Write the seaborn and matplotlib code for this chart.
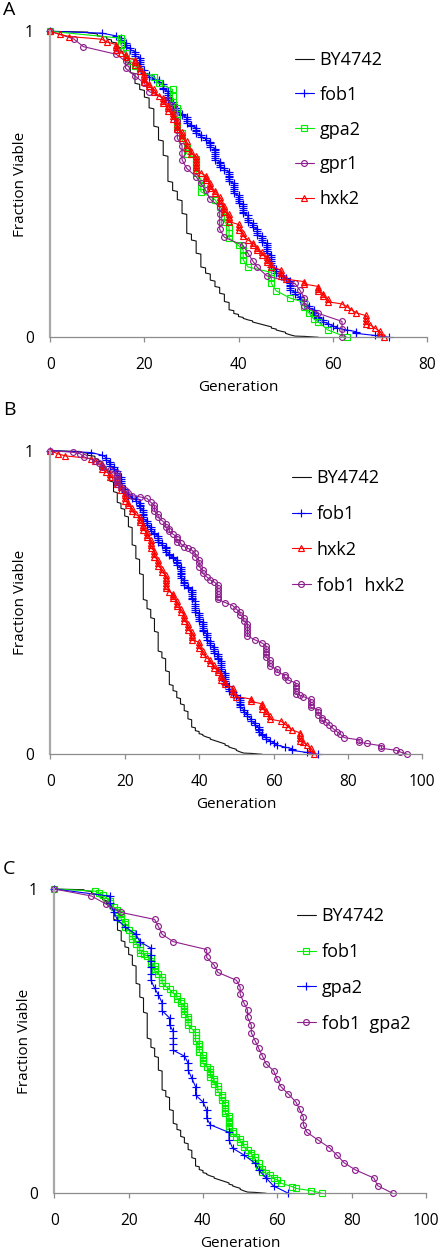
import matplotlib
matplotlib.use("Agg")
import matplotlib.pyplot as plt
import pandas as pd
import seaborn as sns

W, H = 441, 1249

# ---------------- data ----------------
# For each strain: generations at which cells died, fraction still viable
# right after that generation, and number of cells followed.
by4742_gen = [8, 10, 12, 13, 14, 15, 16, 17, 18, 19, 20, 21, 22, 23, 24, 25, 26, 27, 28, 29,
              30, 31, 32, 33, 34, 35, 36, 37, 38, 39, 40, 41, 42, 43, 44, 45, 46, 47, 48, 49,
              50, 51, 52, 54, 57]
by4742_surv = [0.995, 0.985, 0.975, 0.965, 0.95, 0.935, 0.90, 0.865, 0.83, 0.81, 0.785, 0.75,
               0.69, 0.645, 0.595, 0.51, 0.48, 0.45, 0.405, 0.34, 0.318, 0.275, 0.23, 0.21,
               0.187, 0.166, 0.144, 0.117, 0.09, 0.078, 0.068, 0.062, 0.057, 0.05, 0.046,
               0.042, 0.038, 0.03, 0.024, 0.02, 0.013, 0.008, 0.004, 0.003, 0.0]
by4742_cells = 300

fob1_gen = [11, 14, 15, 16, 17, 18, 19, 20, 21, 22, 23, 24, 25, 26, 27, 28, 29, 30, 31, 32,
            33, 34, 35, 36, 37, 38, 39, 40, 41, 42, 43, 44, 45, 46, 47, 48, 49, 50, 51, 52,
            53, 54, 55, 56, 57, 58, 59, 60, 61, 63, 65, 69, 72]
fob1_surv = [0.994, 0.985, 0.97, 0.95, 0.94, 0.92, 0.88, 0.865, 0.85, 0.845, 0.835, 0.81,
             0.775, 0.755, 0.735, 0.725, 0.70, 0.69, 0.667, 0.655, 0.645, 0.623, 0.58, 0.558,
             0.547, 0.51, 0.47, 0.44, 0.405, 0.378, 0.36, 0.335, 0.313, 0.275, 0.23, 0.21,
             0.20, 0.19, 0.155, 0.14, 0.125, 0.11, 0.095, 0.073, 0.062, 0.05, 0.045, 0.038,
             0.03, 0.024, 0.013, 0.006, 0.0]
fob1_cells = 160

gpa2_gen = [15, 16, 17, 18, 19, 22, 23, 26, 27, 28, 29, 31, 32, 35, 36, 37, 38, 40, 41, 42,
            47, 48, 51, 54, 55, 56, 57, 59, 63]
gpa2_surv = [0.955, 0.93, 0.903, 0.885, 0.87, 0.852, 0.83, 0.77, 0.69, 0.645, 0.60, 0.536,
             0.476, 0.45, 0.427, 0.378, 0.324, 0.30, 0.253, 0.23, 0.176, 0.152, 0.128, 0.10,
             0.079, 0.06, 0.05, 0.024, 0.0]
gpa2_cells = 55

gpr1_gen = [5, 7, 14, 16, 18, 20, 21, 25, 26, 27, 28, 29, 31, 32, 33, 34, 36, 37, 41, 42,
            43, 44, 46, 52, 53, 54, 57, 62]
gpr1_surv = [0.975, 0.95, 0.925, 0.879, 0.854, 0.83, 0.803, 0.775, 0.735, 0.65, 0.58, 0.552,
             0.525, 0.503, 0.481, 0.451, 0.353, 0.327, 0.30, 0.275, 0.25, 0.229, 0.201, 0.176,
             0.155, 0.103, 0.078, 0.0]
gpr1_cells = 40

hxk2_gen = [2, 4, 11, 12, 14, 15, 16, 18, 19, 20, 21, 22, 23, 24, 25, 26, 27, 28, 29, 30,
            31, 32, 33, 34, 35, 36, 37, 38, 40, 41, 42, 43, 44, 45, 46, 47, 49, 50, 54, 57,
            58, 59, 62, 63, 64, 65, 67, 68, 69, 70, 71]
hxk2_surv = [0.99, 0.983, 0.974, 0.965, 0.94, 0.93, 0.915, 0.89, 0.87, 0.835, 0.82, 0.80,
             0.79, 0.765, 0.74, 0.715, 0.68, 0.65, 0.62, 0.60, 0.547, 0.536, 0.514, 0.487,
             0.47, 0.44, 0.41, 0.378, 0.35, 0.33, 0.318, 0.30, 0.285, 0.27, 0.246, 0.23, 0.20,
             0.19, 0.174, 0.15, 0.135, 0.116, 0.109, 0.10, 0.09, 0.08, 0.045, 0.04, 0.03,
             0.01, 0.0]
hxk2_cells = 115

fob1hxk2_gen = [6, 8, 9, 12, 13, 14, 16, 18, 19, 20, 21, 22, 24, 26, 27, 28, 29, 30, 31, 32,
                33, 34, 35, 36, 37, 38, 39, 40, 41, 42, 43, 44, 45, 47, 49, 50, 51, 52, 53, 55,
                57, 58, 59, 61, 63, 64, 66, 67, 68, 70, 72, 73, 74, 75, 76, 77, 78, 79, 83, 85,
                89, 93, 94, 96]
fob1hxk2_surv = [0.995, 0.99, 0.98, 0.967, 0.958, 0.947, 0.935, 0.89, 0.88, 0.87, 0.86, 0.852,
                 0.848, 0.843, 0.83, 0.80, 0.78, 0.77, 0.75, 0.735, 0.725, 0.70, 0.695, 0.684,
                 0.678, 0.673, 0.65, 0.618, 0.596, 0.585, 0.574, 0.568, 0.51, 0.50, 0.49, 0.478,
                 0.46, 0.44, 0.39, 0.377, 0.366, 0.32, 0.29, 0.27, 0.254, 0.244, 0.20, 0.195,
                 0.19, 0.155, 0.13, 0.112, 0.107, 0.096, 0.085, 0.075, 0.066, 0.055, 0.04,
                 0.036, 0.02, 0.013, 0.008, 0.0]
fob1hxk2_cells = 105

c_fob1_gen = [11, 12, 13, 14, 15, 16, 17, 18, 19, 20, 21, 22, 23, 24, 25, 26, 27, 28, 29, 30,
              31, 32, 33, 34, 35, 36, 37, 38, 39, 40, 41, 42, 43, 44, 45, 46, 47, 48, 49, 50,
              51, 52, 53, 54, 55, 56, 57, 58, 59, 60, 61, 64, 65, 69, 72]
c_fob1_surv = [0.993, 0.986, 0.98, 0.97, 0.953, 0.94, 0.925, 0.90, 0.876, 0.865, 0.835, 0.82,
               0.79, 0.786, 0.78, 0.756, 0.73, 0.72, 0.69, 0.68, 0.67, 0.657, 0.64, 0.624,
               0.59, 0.553, 0.54, 0.50, 0.465, 0.427, 0.415, 0.383, 0.36, 0.334, 0.306, 0.263,
               0.213, 0.197, 0.186, 0.17, 0.153, 0.142, 0.126, 0.11, 0.088, 0.071, 0.066,
               0.06, 0.049, 0.044, 0.033, 0.022, 0.016, 0.009, 0.0]
c_fob1_cells = 110

c_gpa2_gen = [15, 16, 17, 19, 22, 23, 26, 27, 28, 29, 31, 32, 35, 36, 37, 38, 40, 41, 42, 47,
              48, 51, 54, 55, 57, 59, 63]
c_gpa2_surv = [0.953, 0.925, 0.898, 0.876, 0.851, 0.827, 0.70, 0.674, 0.652, 0.60, 0.553,
               0.47, 0.451, 0.405, 0.378, 0.323, 0.30, 0.246, 0.225, 0.175, 0.148, 0.126,
               0.099, 0.077, 0.05, 0.024, 0.0]
c_gpa2_cells = 45

fob1gpa2_gen = [10, 14, 18, 27, 28, 29, 32, 41, 43, 44, 49, 50, 51, 52, 53, 54, 55, 56, 57, 59,
                60, 61, 63, 65, 66, 67, 68, 71, 74, 76, 78, 81, 86, 87, 91]
fob1gpa2_surv = [0.977, 0.95, 0.923, 0.90, 0.877, 0.851, 0.827, 0.775, 0.75, 0.726, 0.70,
                 0.655, 0.626, 0.578, 0.528, 0.502, 0.476, 0.451, 0.425, 0.403, 0.374, 0.35,
                 0.326, 0.30, 0.276, 0.225, 0.20, 0.175, 0.15, 0.126, 0.10, 0.077, 0.05,
                 0.025, 0.0]
fob1gpa2_cells = 40

x_ticks_A = [0, 20, 40, 60, 80]
x_ticks_BC = [0, 20, 40, 60, 80, 100]
y_ticks = [0, 1]

BLUE, GREEN, PURPLE, RED, BLACK = "#0000ff", "#00ee00", "#8e1f8e", "#ff0000", "#111111"


def survival_frame(gens, surv, cells):
    """One point per dead cell (Excel-style survival plot)."""
    assert len(gens) == len(surv)
    xs, ys = [0], [1.0]
    prev = 1.0
    for g, s in zip(gens, surv):
        m = max(1, int(round((prev - s) * cells)))
        for k in range(1, m + 1):
            xs.append(g)
            ys.append(prev - (prev - s) * k / m)
        prev = s
    return pd.DataFrame({"Generation": xs, "Fraction Viable": ys})


BY = survival_frame(by4742_gen, by4742_surv, by4742_cells)
FOB1 = survival_frame(fob1_gen, fob1_surv, fob1_cells)
GPA2 = survival_frame(gpa2_gen, gpa2_surv, gpa2_cells)
GPR1 = survival_frame(gpr1_gen, gpr1_surv, gpr1_cells)
HXK2 = survival_frame(hxk2_gen, hxk2_surv, hxk2_cells)
FOB1HXK2 = survival_frame(fob1hxk2_gen, fob1hxk2_surv, fob1hxk2_cells)
C_FOB1 = survival_frame(c_fob1_gen, c_fob1_surv, c_fob1_cells)
C_GPA2 = survival_frame(c_gpa2_gen, c_gpa2_surv, c_gpa2_cells)
FOB1GPA2 = survival_frame(fob1gpa2_gen, fob1gpa2_surv, fob1gpa2_cells)

# ---------------- style ----------------
sns.set_theme(style="white")
plt.rcParams["font.family"] = ["Open Sans", "DejaVu Sans"]
plt.rcParams["text.color"] = "black"
plt.rcParams["axes.labelcolor"] = "black"
plt.rcParams["xtick.labelcolor"] = "black"
plt.rcParams["ytick.labelcolor"] = "black"

fig = plt.figure(figsize=(W / 100, H / 100), dpi=100)
fig.patch.set_facecolor("white")

MS = {"+": 6.0, "s": 4.0, "o": 4.2, "^": 4.5}


def panel(letter, letter_top, box, xmax, xticks, series, legend_pos, lspace):
    left, top, right, bottom = box
    ax = fig.add_axes([left / W, 1 - bottom / H, (right - left) / W, (bottom - top) / H])
    for label, df, color, marker in series:
        kw = dict(color=color, linewidth=0.8, label=label, estimator=None, sort=False,
                  ax=ax, clip_on=False)
        if marker:
            kw.update(marker=marker, markersize=MS[marker], markerfacecolor="none",
                      markeredgecolor=color, markeredgewidth=0.85)
        sns.lineplot(data=df, x="Generation", y="Fraction Viable", **kw)
    ax.set_xlim(0, xmax)
    ax.set_ylim(0, 1)
    ax.set_xticks(xticks)
    ax.set_yticks(y_ticks)
    ax.set_yticklabels([str(v) for v in y_ticks])
    for s in ["top", "right"]:
        ax.spines[s].set_visible(False)
    ax.spines["left"].set_color("#a8a8a8")
    ax.spines["left"].set_linewidth(1.6)
    ax.spines["bottom"].set_color("#8c8c8c")
    ax.spines["bottom"].set_linewidth(0.9)
    ax.tick_params(axis="x", direction="out", length=3.5, width=0.9, color="#8c8c8c",
                   pad=10.5, labelsize=11.2, bottom=True)
    ax.tick_params(axis="y", length=0, pad=12, labelsize=11.2, left=False)
    ax.set_xlabel("Generation", fontsize=11, labelpad=5)
    ax.set_ylabel("Fraction Viable", fontsize=11, labelpad=-2.5)
    ax.patch.set_alpha(0)
    hx, ty = legend_pos
    ax.legend(loc="upper left", bbox_to_anchor=(hx / W, 1 - ty / H),
              bbox_transform=fig.transFigure, frameon=False, fontsize=13,
              handlelength=1.05, handletextpad=0.32, labelspacing=lspace, borderpad=0,
              borderaxespad=0, numpoints=1)
    fig.text(3 / W, 1 - letter_top / H, letter, ha="left", va="top", fontsize=14)
    return ax


panel("A", 1, (50.3, 31.3, 426.7, 337.3), 80, x_ticks_A,
      [("BY4742", BY, BLACK, None), ("fob1", FOB1, BLUE, "+"), ("gpa2", GPA2, GREEN, "s"),
       ("gpr1", GPR1, PURPLE, "o"), ("hxk2", HXK2, RED, "^")],
      (295, 51), 0.93)
panel("B", 401, (50.3, 450.7, 422.3, 754.3), 100, x_ticks_BC,
      [("BY4742", BY, BLACK, None), ("fob1", FOB1, BLUE, "+"), ("hxk2", HXK2, RED, "^"),
       ("fob1  hxk2", FOB1HXK2, PURPLE, "o")],
      (292, 469), 0.99)
panel("C", 860, (54.3, 889, 426, 1193.3), 100, x_ticks_BC,
      [("BY4742", BY, BLACK, None), ("fob1", C_FOB1, GREEN, "s"), ("gpa2", C_GPA2, BLUE, "+"),
       ("fob1  gpa2", FOB1GPA2, PURPLE, "o")],
      (297, 907), 0.99)

fig.savefig("out.png", dpi=100, facecolor="white")
